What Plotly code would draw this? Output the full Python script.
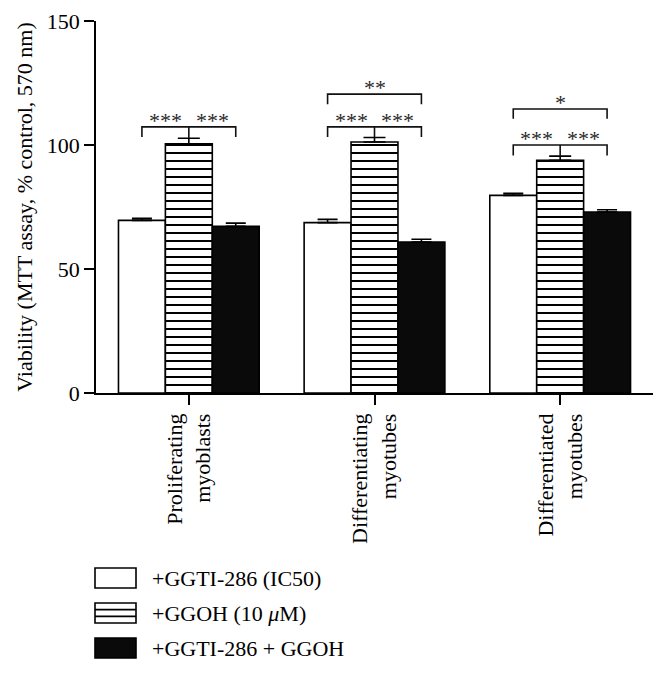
import plotly.graph_objects as go

# ---- data ----
categories = ["Proliferating<br>myoblasts", "Differentiating<br>myotubes", "Differentiated<br>myotubes"]
series_names = ["+GGTI-286 (IC50)", "+GGOH (10 <i>μ</i>M)", "+GGTI-286 + GGOH"]
ggti_vals = [69.6, 68.7, 79.7]
ggti_err = [0.8, 1.3, 0.8]
ggoh_vals = [100.5, 101.2, 93.8]
ggoh_err = [2.2, 1.8, 1.7]
combo_vals = [67.2, 60.9, 73.0]
combo_err = [1.3, 1.1, 0.9]
y_ticks = [0, 50, 100, 150]

# significance brackets
lower_levels = [107.3, 107.3, 100.0]
lower_ends = [103.2, 103.2, 95.8]
upper_groups = [1, 2]
upper_levels = [120.5, 114.5]
upper_ends = [116.4, 110.6]
upper_labels = ["**", "*"]

FONT = "Liberation Serif"
FS = 22
x = [0, 1, 2]
bargap = 0.242
w = (1 - bargap) / 3

fig = go.Figure()
fig.add_trace(go.Bar(
    x=x, y=ggti_vals, name=series_names[0],
    marker=dict(color="white", line=dict(color="black", width=1.6)),
    error_y=dict(type="data", array=ggti_err, arrayminus=[0] * 3, symmetric=False,
                 color="black", thickness=1.6, width=10),
))
fig.add_trace(go.Bar(
    x=x, y=ggoh_vals, name=series_names[1],
    marker=dict(color="white", line=dict(color="black", width=1.6),
                pattern=dict(shape="-", fgcolor="black", bgcolor="white", size=8, solidity=0.25,
                             fgopacity=1)),
    error_y=dict(type="data", array=ggoh_err, arrayminus=[0] * 3, symmetric=False,
                 color="black", thickness=1.6, width=11),
))
fig.add_trace(go.Bar(
    x=x, y=combo_vals, name=series_names[2],
    marker=dict(color="#0a0a0a", line=dict(color="black", width=1.6)),
    error_y=dict(type="data", array=combo_err, arrayminus=[0] * 3, symmetric=False,
                 color="black", thickness=1.6, width=10),
))

shapes = []
annotations = []
line_style = dict(color="#111", width=1.6)
star_font = dict(family=FONT, size=FS, color="#2a2a2a")
for g in range(3):
    lv, le = lower_levels[g], lower_ends[g]
    x1, x2 = g - w, g + w
    shapes.append(dict(type="path", xref="x", yref="y",
                       path=f"M {x1},{le} L {x1},{lv} L {x2},{lv} L {x2},{le}", line=line_style))
    cap = ggoh_vals[g] + ggoh_err[g]
    shapes.append(dict(type="line", xref="x", yref="y", x0=g, x1=g, y0=lv, y1=cap, line=line_style))
    for off in (-w / 2, w / 2):
        annotations.append(dict(x=g + off, y=lv, xref="x", yref="y", text="***", showarrow=False,
                                yanchor="bottom", yshift=-8, font=star_font))
for g, lv, le, lab in zip(upper_groups, upper_levels, upper_ends, upper_labels):
    x1, x2 = g - w, g + w
    shapes.append(dict(type="path", xref="x", yref="y",
                       path=f"M {x1},{le} L {x1},{lv} L {x2},{lv} L {x2},{le}", line=line_style))
    annotations.append(dict(x=g, y=lv, xref="x", yref="y", text=lab, showarrow=False,
                            yanchor="bottom", yshift=-8, font=star_font))

# manual legend (paper coordinates; page pixels mapped onto the plot area)
plot_left, plot_w = 96, 557
plot_bottom, plot_h = 393, 372
def px_x(p):
    return (p - plot_left) / plot_w
def px_y(p):
    return (plot_bottom - p) / plot_h
rows = [578, 613, 648]
bx0, bx1 = px_x(95), px_x(136)
for i, cy in enumerate(rows):
    y0, y1 = px_y(cy + 10), px_y(cy - 10)
    fill = "#0a0a0a" if i == 2 else "white"
    shapes.append(dict(type="rect", xref="paper", yref="paper", x0=bx0, x1=bx1, y0=y0, y1=y1,
                       fillcolor=fill, line=dict(color="black", width=1.6)))
    if i == 1:
        for frac in (1 / 3, 2 / 3):
            yy = y0 + (y1 - y0) * frac
            shapes.append(dict(type="line", xref="paper", yref="paper", x0=bx0, x1=bx1, y0=yy, y1=yy,
                               line=dict(color="black", width=1.6)))
    annotations.append(dict(x=px_x(150), y=px_y(cy), xref="paper", yref="paper", text=series_names[i],
                            showarrow=False, xanchor="left", yanchor="middle",
                            font=dict(family=FONT, size=FS, color="black")))

# the page body has an 8px margin, so offsets are compensated
fig.update_layout(
    width=668, height=675,
    margin=dict(l=88, r=23, t=13, b=290, autoexpand=False),
    paper_bgcolor="white", plot_bgcolor="white",
    barmode="group", bargap=bargap, bargroupgap=0,
    showlegend=False,
    font=dict(family=FONT, size=FS, color="black"),
    shapes=shapes, annotations=annotations,
)
fig.update_xaxes(
    range=[-0.5, 2.5], tickvals=x, ticktext=categories, tickangle=-90, automargin=False,
    showline=True, linecolor="black", linewidth=1.6,
    ticks="outside", ticklen=10, tickwidth=1.6, tickcolor="black",
    showgrid=False, zeroline=False, tickfont=dict(family=FONT, size=FS),
)
fig.update_yaxes(
    range=[0, 150], tickvals=y_ticks, automargin=False,
    showline=True, linecolor="black", linewidth=1.6,
    ticks="outside", ticklen=10, tickwidth=1.6, tickcolor="black",
    showgrid=False, zeroline=False, tickfont=dict(family=FONT, size=FS),
    title=dict(text="Viability (MTT assay, % control, 570 nm)", font=dict(family=FONT, size=FS), standoff=8),
)

fig.write_html("out.html")
